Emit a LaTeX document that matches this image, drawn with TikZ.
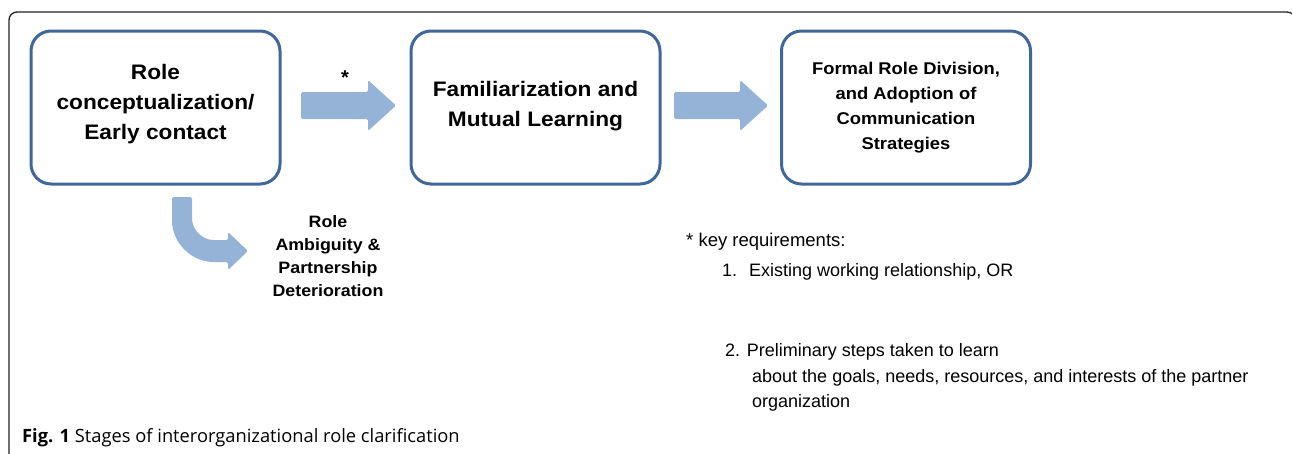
\documentclass[tikz,border=0pt]{standalone}
\usepackage{fontspec}
\setmainfont{Liberation Sans}
\newfontfamily\boxf[FakeStretch=1.08]{Liberation Sans}
\newfontfamily\capf{Open Sans}
\usetikzlibrary{calc}
\definecolor{boxblue}{HTML}{41669A}
\definecolor{arrowblue}{HTML}{95B3D7}
\definecolor{framegray}{HTML}{222222}
\tikzset{
  stagebox/.style={draw=boxblue, line width=3pt, rounded corners=20pt, minimum width=249pt, minimum height=153pt, inner sep=0pt},
  bigtext/.style={align=center, font=\boxf\bfseries\fontsize{21}{30}\selectfont, inner sep=0pt},
  smalltext/.style={align=center, font=\boxf\bfseries\fontsize{17}{25}\selectfont, inner sep=0pt},
  ambtext/.style={align=center, font=\boxf\bfseries\fontsize{16.5}{23}\selectfont, inner sep=0pt},
  notetext/.style={anchor=base west, font=\fontsize{18}{21}\selectfont, inner sep=0pt},
}
\newcommand\blockarr[2]{%
  \fill[arrowblue, rounded corners=1.5pt] ($(#1)+(0,-13.5)$) -- ($(#2)+(-28,-13.5)$) -- ($(#2)+(-28,-25.5)$) -- (#2) -- ($(#2)+(-28,25.5)$) -- ($(#2)+(-28,13.5)$) -- ($(#1)+(0,13.5)$) -- cycle;}
\begin{document}
\begin{tikzpicture}[x=1pt,y=-1pt]
\useasboundingbox (0,0) rectangle (1292,453);
% frame
\draw[framegray, line width=1.3pt, rounded corners=8pt] (9,480) -- (9,12) -- (1295,12) -- (1295,480);
% boxes
\node[stagebox] (b1) at (155.5,107.5) {};
\node[stagebox] (b2) at (535.5,107.5) {};
\node[stagebox] (b3) at (906,107.5) {};
\node[bigtext] (t1) at ($(b1)+(0,-3)$) {Role\\conceptualization/\\Early contact};
\node[bigtext] (t2) at ($(b2)+(0,-1)$) {Familiarization and\\Mutual Learning};
\node[smalltext] (t3) at ($(b3)+(0,0)$) {Formal Role Division,\\and Adoption of\\Communication\\Strategies};
% block arrows
\coordinate (a1s) at (301,105.5);
\coordinate (a1e) at (396,105.5);
\coordinate (a2s) at (674,105.5);
\coordinate (a2e) at (768,105.5);
\blockarr{a1s}{a1e}
\blockarr{a2s}{a2e}
\node[font=\bfseries\fontsize{20}{20}\selectfont, inner sep=0pt] (star) at (345,78) {*};
% curved arrow
\coordinate (ctip) at (248,251);
\fill[arrowblue, rounded corners=1.5pt] (172,197) -- (172,219)
  .. controls (172,242.7) and (191.3,262) .. (215,262) -- (228,262) -- (228,270)
  -- (ctip) -- (228,232) -- (228,240) -- (215,240)
  .. controls (202.3,240) and (192,229.7) .. (192,217) -- (192,197) -- cycle;
\node[ambtext] (amb) at (328,256) {Role\\Ambiguity \&\\Partnership\\Deterioration};
% notes
\node[notetext, font=\fontsize{18.5}{21}\selectfont] (n0) at (686,246) {* key requirements:};
\node[notetext] (n1a) at (722,276) {1.};
\node[notetext] (n1) at (749,276) {Existing working relationship, OR};
\node[notetext] (n2) at (725,356) {2. Preliminary steps taken to learn};
\node[notetext] (n3) at (752,382) {about the goals, needs, resources, and interests of the partner};
\node[notetext] (n4) at (752,407) {organization};
% caption
\node[anchor=base west, inner sep=0pt, font=\capf\fontsize{18.3}{20}\selectfont] (cap) at (22,442) {\textbf{Fig. 1} Stages of interorganizational role clarification};
\end{tikzpicture}
\end{document}
